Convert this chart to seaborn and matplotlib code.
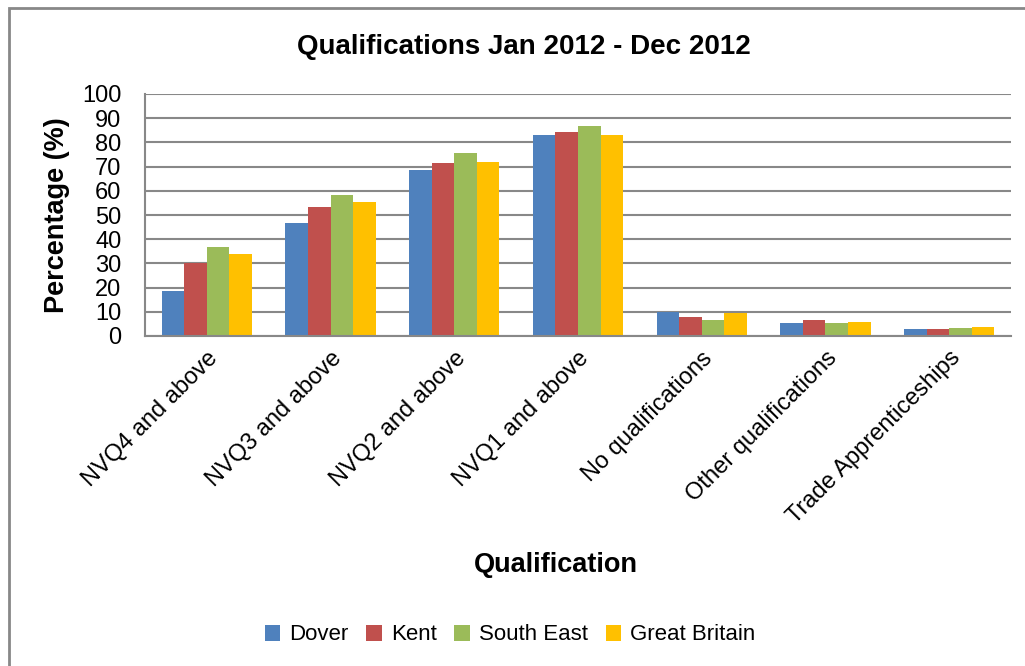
import pandas as pd
import numpy as np
import seaborn as sns
import matplotlib.pyplot as plt
from matplotlib.patches import Rectangle
from matplotlib.ticker import FixedLocator

sns.set_theme(style='white')
plt.rcParams['font.family'] = ['Liberation Sans', 'DejaVu Sans']
plt.rcParams['text.color'] = 'black'
plt.rcParams['axes.labelcolor'] = 'black'
plt.rcParams['xtick.color'] = 'black'
plt.rcParams['ytick.color'] = 'black'

# Data
qualifications = ['NVQ4 and above', 'NVQ3 and above', 'NVQ2 and above', 'NVQ1 and above',
                  'No qualifications', 'Other qualifications', 'Trade Apprenticeships']
areas = ['Dover', 'Kent', 'South East', 'Great Britain']
dover = [18.4, 46.9, 68.5, 83.2, 9.9, 5.4, 2.9]
kent = [30.0, 53.1, 71.4, 84.4, 7.9, 6.6, 2.9]
south_east = [36.9, 58.1, 75.5, 86.8, 6.6, 5.4, 3.3]
great_britain = [34.0, 55.2, 71.8, 83.2, 9.7, 5.8, 3.7]
colours = ['#4F81BD', '#C0504D', '#9BBB59', '#FFC000']

# Long format for seaborn
df = pd.DataFrame({'Qualification': qualifications * 4,
                   'Area': np.repeat(areas, len(qualifications)),
                   'Percentage': dover + kent + south_east + great_britain})

fig = plt.figure(figsize=(10.25, 6.66), dpi=100)
ax = fig.add_axes([145 / 1025, 1 - 336 / 666, (1011 - 145) / 1025, (336 - 94) / 666])

sns.barplot(data=df, x='Qualification', y='Percentage', hue='Area', order=qualifications,
            hue_order=areas, palette=colours, width=0.73, saturation=1, ax=ax,
            linewidth=0, legend=True)

# Axes styling, Excel-ish
ax.set_ylim(0, 100)
ax.set_xlim(-0.5, len(qualifications) - 0.5)
ax.set_yticks(range(0, 101, 10))
ax.yaxis.grid(True, color='#888888', linewidth=1.5)
ax.set_axisbelow(True)
for s in ['top', 'right']:
    ax.spines[s].set_visible(False)
for s in ['left', 'bottom']:
    ax.spines[s].set_color('#888888')
    ax.spines[s].set_linewidth(1.5)
ax.tick_params(axis='y', length=8, width=1.5, color='#888888', labelsize=17, pad=9)
ax.tick_params(axis='x', which='major', length=0, labelsize=17, pad=8)
ax.xaxis.set_minor_locator(FixedLocator(np.arange(-0.5, len(qualifications), 1)))
ax.tick_params(axis='x', which='minor', length=9, width=1.5, color='#888888')
plt.setp(ax.get_xticklabels(), rotation=45, ha='right', rotation_mode='anchor')

ax.set_ylabel('Percentage (%)', fontsize=19.5, fontweight='bold', labelpad=9)
ax.set_xlabel('')
fig.text(556 / 1025, 1 - 565 / 666, 'Qualification', fontsize=19.5, fontweight='bold',
         ha='center', va='center')
fig.text(524 / 1025, 1 - 47 / 666, 'Qualifications Jan 2012 - Dec 2012', fontsize=20,
         fontweight='bold', ha='center', va='center')

ax.legend(loc='center', bbox_to_anchor=(510 / 1025, 1 - 635 / 666),
          bbox_transform=fig.transFigure, ncol=4, frameon=False, fontsize=16,
          handlelength=0.7, handleheight=0.7, columnspacing=0.8, handletextpad=0.4)

# outer chart frame
fig.patches.append(Rectangle((9 / 1025, -0.05), 1.2, 1 - 8 / 666 + 0.05,
                             transform=fig.transFigure, fill=False,
                             edgecolor='#888888', linewidth=2))

fig.savefig('out.png', dpi=100)
